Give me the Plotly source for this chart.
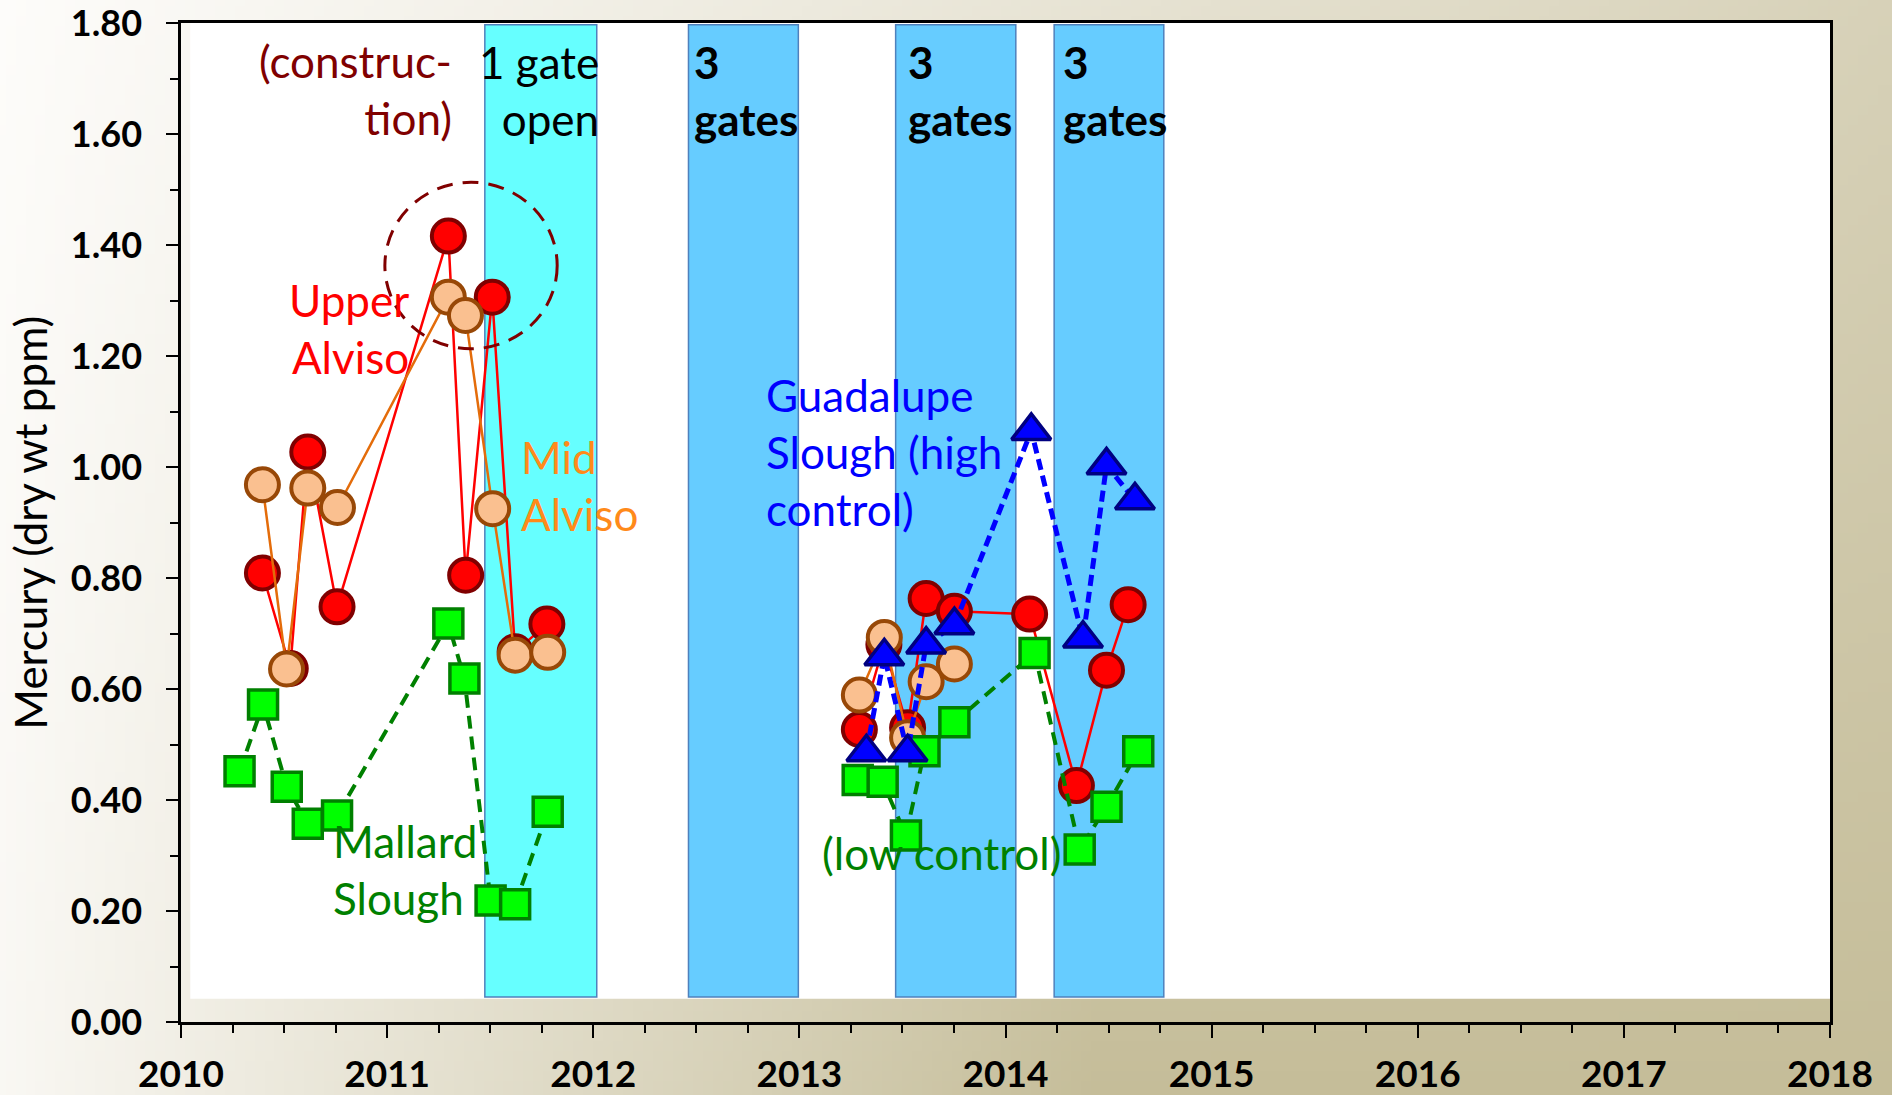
import base64
import struct
import zlib

import plotly.graph_objects as go

# ---------------- data ----------------
# Upper Alviso (red circles)
upper_x = [2010.395, 2010.530, 2010.615, 2010.757, 2011.297, 2011.381, 2011.510, 2011.621, 2011.775,
           None,
           2013.291, 2013.410, 2013.525, 2013.615, 2013.752, 2014.117, 2014.344, 2014.490, 2014.595]
upper_y = [0.809, 0.637, 1.027, 0.748, 1.416, 0.805, 1.306, 0.667, 0.717,
           None,
           0.527, 0.680, 0.530, 0.763, 0.740, 0.735, 0.426, 0.634, 0.752]

# Mid Alviso (peach circles)
mid_x = [2010.395, 2010.512, 2010.615, 2010.759, 2011.297, 2011.380, 2011.512, 2011.621, 2011.779,
         None,
         2013.291, 2013.412, 2013.525, 2013.615, 2013.752]
mid_y = [0.968, 0.636, 0.962, 0.927, 1.306, 1.273, 0.925, 0.661, 0.666,
         None,
         0.589, 0.693, 0.512, 0.613, 0.645]

# Mallard Slough (green squares, low control)
mallard_x = [2010.284, 2010.398, 2010.513, 2010.615, 2010.757, 2011.297, 2011.375, 2011.502, 2011.621, 2011.779,
             None,
             2013.283, 2013.404, 2013.517, 2013.607, 2013.752, 2014.141, 2014.360, 2014.490, 2014.644]
mallard_y = [0.452, 0.572, 0.424, 0.357, 0.372, 0.718, 0.619, 0.219, 0.212, 0.379,
             None,
             0.436, 0.433, 0.336, 0.488, 0.540, 0.665, 0.311, 0.388, 0.488]

# Guadalupe Slough (blue triangles, high control)
guad_x = [2013.325, 2013.412, 2013.525, 2013.615, 2013.752, 2014.125, 2014.376, 2014.490, 2014.628]
guad_y = [0.486, 0.659, 0.486, 0.680, 0.715, 1.065, 0.691, 1.003, 0.940]

# Gate-open periods (shaded bands)
band_start = [2011.474, 2012.462, 2013.467, 2014.236]
band_end = [2012.017, 2012.995, 2014.050, 2014.768]
band_fill = ["#66FFFF", "#66CCFF", "#66CCFF", "#66CCFF"]

# Axis ticks
year_ticks = [2010, 2011, 2012, 2013, 2014, 2015, 2016, 2017, 2018]
year_labels = [str(v) for v in year_ticks]
hg_ticks = [0.0, 0.2, 0.4, 0.6, 0.8, 1.0, 1.2, 1.4, 1.6, 1.8]
hg_labels = ["%.2f" % v for v in hg_ticks]

# Highlight circle (construction period)
hl_center_x, hl_center_y = 2011.407, 1.363
hl_rx, hl_ry = 0.418, 0.150

# ---------------- background gradient image ----------------
W, H = 1892, 1095
light = (253, 252, 250)
tan = (197, 189, 153)


def grad_t(xn, yn):
    top = 0.68 * xn
    bottom = min(1.0, 0.07 + 1.6 * xn)
    return (1 - yn) * top + yn * bottom


def make_png(w, h):
    rows = []
    for j in range(h):
        yn = j / (h - 1)
        row = bytearray([0])
        for i in range(w):
            xn = i / (w - 1)
            t = grad_t(xn, yn)
            for k in range(3):
                row.append(int(round(light[k] + (tan[k] - light[k]) * t)))
        rows.append(bytes(row))
    raw = b"".join(rows)

    def chunk(tag, data):
        return (struct.pack(">I", len(data)) + tag + data +
                struct.pack(">I", zlib.crc32(tag + data) & 0xffffffff))

    png = (b"\x89PNG\r\n\x1a\n" +
           chunk(b"IHDR", struct.pack(">IIBBBBB", w, h, 8, 2, 0, 0, 0)) +
           chunk(b"IDAT", zlib.compress(raw, 9)) +
           chunk(b"IEND", b""))
    return "data:image/png;base64," + base64.b64encode(png).decode()


ML, MR, MT, MB = 181, 62, 23, 73
PW, PH = W - ML - MR, H - MT - MB

fig = go.Figure()

# ---------------- traces ----------------
fig.add_trace(go.Scatter(
    x=upper_x, y=upper_y, mode="lines+markers", name="Upper Alviso",
    line=dict(color="#FF0000", width=2.5),
    marker=dict(symbol="circle", size=33, color="#FF0000", line=dict(color="#800000", width=4)),
    connectgaps=False))
fig.add_trace(go.Scatter(
    x=mid_x, y=mid_y, mode="lines+markers", name="Mid Alviso",
    line=dict(color="#E46C0A", width=2.5),
    marker=dict(symbol="circle", size=33, color="#FAC090", line=dict(color="#984807", width=4)),
    connectgaps=False))
fig.add_trace(go.Scatter(
    x=mallard_x, y=mallard_y, mode="lines+markers", name="Mallard Slough",
    line=dict(color="#008000", width=4, dash="13px,8px"),
    marker=dict(symbol="square", size=29, color="#00FF00", line=dict(color="#008000", width=3.5)),
    connectgaps=False))
fig.add_trace(go.Scatter(
    x=guad_x, y=guad_y, mode="lines+markers", name="Guadalupe Slough",
    line=dict(color="#0000FF", width=5, dash="11px,6px"),
    marker=dict(symbol="triangle-up", size=34, color="#0000FF", line=dict(color="#000080", width=3.5))))

# ---------------- shapes ----------------
shapes = [dict(type="rect", xref="x", yref="y", x0=2010.045, x1=2018, y0=0.042, y1=1.8,
               fillcolor="white", line=dict(width=0), layer="below")]
for s, e, c in zip(band_start, band_end, band_fill):
    shapes.append(dict(type="rect", xref="x", yref="y", x0=s, x1=e, y0=0.045, y1=1.797,
                       fillcolor=c, line=dict(color="#4F81BD", width=1.5), layer="below"))
shapes.append(dict(type="circle", xref="x", yref="y",
                   x0=hl_center_x - hl_rx, x1=hl_center_x + hl_rx,
                   y0=hl_center_y - hl_ry, y1=hl_center_y + hl_ry,
                   line=dict(color="#800000", width=3, dash="16px,10px")))

FONT = "Lato"
AS = 44
annotations = [
    dict(x=2011.324, y=1.680, xref="x", yref="y", text="(construc-<br>tion)", xanchor="right", align="right",
         font=dict(family=FONT, size=AS, color="#800000")),
    dict(x=2012.038, y=1.678, xref="x", yref="y", text="1 gate<br>open", xanchor="right", align="right",
         font=dict(family=FONT, size=AS, color="black")),
    dict(x=2012.479, y=1.678, xref="x", yref="y", text="3<br>gates", xanchor="left", align="left",
         font=dict(family=FONT, size=AS, color="black", weight="bold")),
    dict(x=2013.519, y=1.678, xref="x", yref="y", text="3<br>gates", xanchor="left", align="left",
         font=dict(family=FONT, size=AS, color="black", weight="bold")),
    dict(x=2014.267, y=1.678, xref="x", yref="y", text="3<br>gates", xanchor="left", align="left",
         font=dict(family=FONT, size=AS, color="black", weight="bold")),
    dict(x=2011.115, y=1.250, xref="x", yref="y", text="Upper<br>Alviso", xanchor="right", align="right",
         font=dict(family=FONT, size=AS, color="#FF0000")),
    dict(x=2011.638, y=0.967, xref="x", yref="y", text="Mid<br>Alviso", xanchor="left", align="left",
         font=dict(family=FONT, size=AS, color="#FF8A1A")),
    dict(x=2012.826, y=1.027, xref="x", yref="y", text="Guadalupe<br>Slough (high<br>control)", xanchor="left",
         align="left", font=dict(family=FONT, size=AS, color="#0000FF")),
    dict(x=2013.101, y=0.304, xref="x", yref="y", text="(low control)", xanchor="left", align="left",
         font=dict(family=FONT, size=AS, color="#008000")),
    dict(x=2010.726, y=0.275, xref="x", yref="y", text="Mallard<br>Slough", xanchor="left", align="left",
         font=dict(family=FONT, size=AS, color="#008000")),
    dict(x=-0.092, y=0.5, xref="paper", yref="paper", text="Mercury (dry wt ppm)", textangle=-90,
         xanchor="center", yanchor="middle", font=dict(family=FONT, size=AS, color="black")),
]
for a in annotations:
    a["showarrow"] = False
    a.setdefault("yanchor", "middle")

fig.update_layout(
    width=W, height=H, autosize=False,
    margin=dict(l=ML, r=MR, t=MT, b=MB, pad=0, autoexpand=False),
    paper_bgcolor="#FCFBF9",
    plot_bgcolor="rgba(0,0,0,0)",
    showlegend=False,
    shapes=shapes,
    annotations=annotations,
    images=[dict(source=make_png(190, 110), xref="paper", yref="paper",
                 x=-ML / PW, y=1 + MT / PH, sizex=W / PW, sizey=H / PH,
                 xanchor="left", yanchor="top", sizing="stretch", layer="below")],
    xaxis=dict(range=[2010, 2018], tickmode="array", tickvals=year_ticks, ticktext=year_labels,
               ticks="outside", ticklen=13, tickwidth=2, tickcolor="black",
               minor=dict(dtick=0.25, tick0=2010, ticks="outside", ticklen=8, tickwidth=2, tickcolor="black",
                          showgrid=False),
               showline=True, linecolor="black", linewidth=2.5, mirror=True, automargin=False,
               showgrid=False, zeroline=False, ticklabelstandoff=5, ticklabeloverflow="allow",
               tickfont=dict(family=FONT, size=37, color="black", weight="bold")),
    yaxis=dict(range=[0, 1.8], tickmode="array", tickvals=hg_ticks, ticktext=hg_labels,
               ticks="outside", ticklen=12, tickwidth=2, tickcolor="black",
               minor=dict(dtick=0.1, tick0=0, ticks="outside", ticklen=8, tickwidth=2, tickcolor="black",
                          showgrid=False),
               showline=True, linecolor="black", linewidth=2.5, mirror=True, automargin=False,
               showgrid=False, zeroline=False, ticklabelstandoff=17, ticklabeloverflow="allow",
               tickfont=dict(family=FONT, size=36, color="black", weight="bold")),
)

fig.write_html("out.html", config={"displayModeBar": False},
               post_script="document.body.style.margin='0';document.body.style.overflow='hidden';")
